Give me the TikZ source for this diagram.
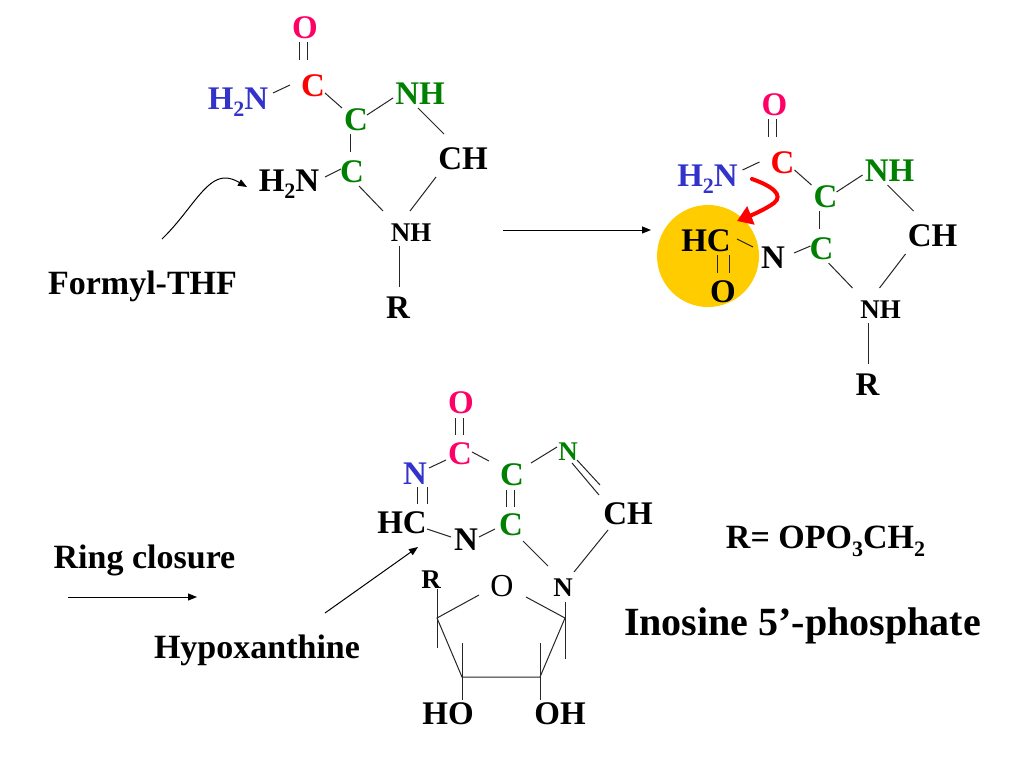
\documentclass[tikz,border=0pt]{standalone}
\usepackage{fontspec}
\setmainfont{Liberation Serif}
\usetikzlibrary{arrows.meta}
\definecolor{opink}{HTML}{FF0066}
\definecolor{cred}{HTML}{FF0000}
\definecolor{nblue}{HTML}{3333CC}
\definecolor{cgreen}{HTML}{008000}
\definecolor{amber}{HTML}{FFCC00}
\newcommand\subs[1]{\raisebox{-.24em}{\fontsize{22}{22}\selectfont #1}}
\tikzset{
  atom/.style={font=\bfseries\fontsize{33}{36}\selectfont,inner sep=0pt,text height=22pt,text depth=0pt},
  small/.style={font=\bfseries\fontsize{27}{30}\selectfont,inner sep=0pt,text height=18pt,text depth=0pt},
  label/.style={font=\bfseries\fontsize{34}{38}\selectfont,inner sep=0pt,text height=22.5pt,text depth=0pt},
  bond/.style={draw=black!85,line width=1pt},
  thinarrow/.style={draw=black,line width=1pt,-{Triangle[length=9pt,width=7pt]}},
  redarrow/.style={draw=cred,line width=4pt,line cap=round,-{Triangle[length=15pt,width=19pt]}}
}
% bond from a node to a node, each end offset from the node centre
\newcommand\bnd[4]{\draw[bond] ([shift={(#2)}]#1.center) -- ([shift={(#4)}]#3.center);}
% part shared by the first two molecules
\newcommand\amide[3]{%
  \node[atom,text=opink] (#1o) at ({#2+305},{#3+27}) {O};
  \node[atom,text=cred] (#1c) at ({#2+313},{#3+85}) {C};
  \node[atom,text=nblue] (#1b) at ({#2+238},{#3+98}) {H\subs{2}N};
  \node[atom,text=cgreen] (#1g) at ({#2+356},{#3+119}) {C};
  \node[atom,text=cgreen] (#1n) at ({#2+420},{#3+93}) {NH};
  \node[atom] (#1h) at ({#2+463},{#3+158}) {CH};
  \node[atom,text=cgreen] (#1k) at ({#2+352},{#3+171}) {C};
  \node[small] (#1s) at ({#2+411},{#3+232}) {NH};
  \node[atom] (#1r) at ({#2+398},{#3+307}) {R};
  \bnd{#1o}{-6,15}{#1c}{-14,-25}
  \bnd{#1o}{2,15}{#1c}{-6,-25}
  \bnd{#1b}{35,-5}{#1c}{-23,0}
  \bnd{#1c}{12,8}{#1g}{-14,-11}
  \bnd{#1g}{11,-4}{#1n}{-27,5}
  \bnd{#1n}{-2,15}{#1h}{-19,-24}
  \bnd{#1g}{-6,15}{#1k}{-2,-19}
  \bnd{#1k}{7,15}{#1s}{-28,-21}
  \bnd{#1h}{-27,19}{#1s}{-1,-21}
  \bnd{#1s}{-12,14}{#1r}{1,-20}
}
\begin{document}
\begin{tikzpicture}[x=1pt,y=-1pt]
\useasboundingbox (0,0) rectangle (1024,768);
\fill[white] (0,0) rectangle (1024,768);

% first molecule
\amide{a}{0}{0}
\node[atom] (am) at (289,180) {H\subs{2}N};
\bnd{am}{36,-3}{ak}{-11,-2}
\node[label] (formyl) at (142.5,283) {Formyl-THF};
\draw[thinarrow]
  ([shift={(19.5,-44)}]formyl.center) .. controls (190,212) and (205,178) .. (225,178)
  .. controls (233,178) and (240,183) .. ([shift={(-42,7)}]am.center);

% middle arrow
\coordinate (m1) at (503,230);
\coordinate (m2) at (651,230);
\draw[thinarrow] (m1) -- (m2);

% second molecule
\node[circle,fill=amber,minimum size=102pt,inner sep=0pt] (spot) at (708,256) {};
\amide{b}{469.5}{77}
\node[atom] (bhc) at (706,240) {HC};
\node[atom] (bnn) at (773,257) {N};
\node[atom] (boo) at (723,291) {O};
\bnd{bhc}{31,-1}{bnn}{-20,-10}
\bnd{bnn}{21,-4}{bk}{-11,-2}
\bnd{bhc}{11,15}{boo}{-6,-18}
\bnd{bhc}{23,15}{boo}{6,-18}
\draw[redarrow] ([shift={(44.5,4)}]bb.center) .. controls (772,186) and (784,195) .. (774,203)
  .. controls (766,209) and (752,215) .. ([shift={(31,-19)}]bhc.center);

% third molecule
\node[atom,text=opink] (o3) at (461,402) {O};
\node[atom,text=opink] (c3) at (460,453) {C};
\node[atom,text=nblue] (n3) at (415,473) {N};
\node[atom] (hc3) at (402,522) {HC};
\node[atom] (nb3) at (466,539) {N};
\node[atom,text=cgreen] (cu) at (512,474) {C};
\node[atom,text=cgreen] (cl) at (511,524) {C};
\node[small,text=cgreen] (ng) at (568,451) {N};
\node[atom] (ch3) at (628,513) {CH};
\node[small] (n4) at (563,587) {N};
\node[font=\fontsize{32}{36}\selectfont,inner sep=0pt,text height=21pt,text depth=0pt] (os) at (502,586) {O};
\node[small] (r3) at (431,579) {R};
\node[atom] (ho) at (448,713) {HO};
\node[atom] (oh) at (560,713) {OH};
\bnd{o3}{-6,16}{c3}{-5,-18}
\bnd{o3}{2,16}{c3}{3,-18}
\bnd{c3}{-14,7}{n3}{14,-5}
\bnd{n3}{2,14}{hc3}{15,-18}
\bnd{n3}{12,14}{hc3}{25,-18}
\bnd{hc3}{25,7}{nb3}{-15,-2}
\bnd{nb3}{13,-2}{cl}{-16,5}
\bnd{c3}{12,-1}{cu}{-23,-13}
\bnd{cu}{-6,16}{cl}{-5,-17}
\bnd{cu}{2,16}{cl}{3,-17}
\bnd{cu}{19,-11}{ng}{-11,-4}
\bnd{ng}{9,9}{ch3}{-28,-28}
\bnd{ng}{4,12}{ch3}{-29,-18}
\bnd{ch3}{-20,17}{n4}{11,-15}
\bnd{cl}{12,17}{n4}{-15,-21}

% sugar ring
\coordinate (sa) at (437,618);
\coordinate (sb) at (462,677);
\coordinate (sc) at (540,677);
\coordinate (sd) at (565,618);
\coordinate (sa2) at (437,648);
\coordinate (sd2) at (565,659);
\coordinate (sb2) at (462,643);
\coordinate (sc2) at (540,643);
\draw[bond] ([shift={(-23,9)}]os.center) -- (sa) -- (sb) -- (sc) -- (sd) -- ([shift={(24,11)}]os.center);
\draw[bond] ([shift={(6,10)}]r3.center) -- (sa2);
\draw[bond] ([shift={(2,15)}]n4.center) -- (sd2);
\draw[bond] (sb2) -- ([shift={(14,-13)}]ho.center);
\draw[bond] (sc2) -- ([shift={(-20,-13)}]oh.center);

% labels
\node[label] (ring) at (144.5,557) {Ring closure};
\coordinate (r1) at (68,597);
\coordinate (r2) at (197,597);
\draw[thinarrow] (r1) -- (r2);
\node[label] (hypo) at (257,647) {Hypoxanthine};
\draw[thinarrow] ([shift={(68,-34)}]hypo.center) -- ([shift={(16,25)}]hc3.center);
\node[label] (rdef) at (825.5,537) {R= OPO\subs{3}CH\subs{2}};
\node[font=\bfseries\fontsize{40}{44}\selectfont,inner sep=0pt,text height=26.5pt,text depth=0pt] (ino) at (802.5,622) {Inosine 5’-phosphate};
\end{tikzpicture}
\end{document}
